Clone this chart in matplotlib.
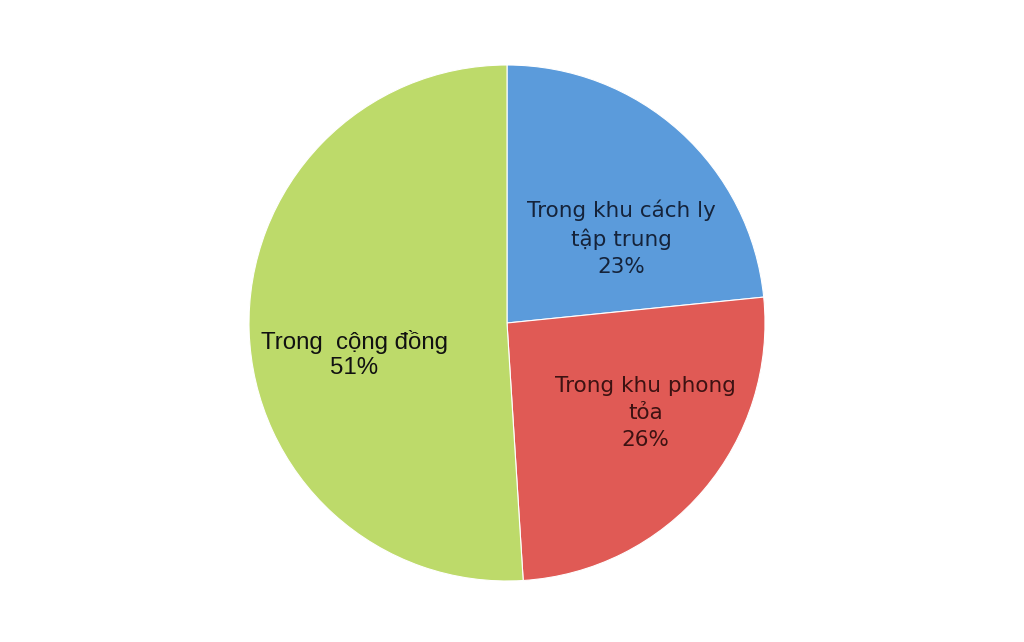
import matplotlib.pyplot as plt

labels = ["Trong khu cách ly\ntập trung", "Trong khu phong\ntỏa", "Trong  cộng đồng"]
values = [23.4, 25.6, 51.0]
pct_labels = ["23%", "26%", "51%"]
colors = ['#5B9BDB', '#E05A55', '#BDDA6A']
text_colors = ['#15233a', '#3d1212', '#111111']
families = ['DejaVu Sans', 'DejaVu Sans', 'Liberation Sans']
sizes = [15.5, 15.5, 17.3]

fig = plt.figure(figsize=(10.24, 6.42), dpi=100)
cx, cy, r = 507, 323, 258
ax = fig.add_axes([(cx - r) / 1024, (642 - cy - r) / 642, 2 * r / 1024, 2 * r / 642])
ax.pie(values, colors=colors, startangle=90, counterclock=False,
       wedgeprops=dict(edgecolor='white', linewidth=0.8))
ax.set_xlim(-1, 1)
ax.set_ylim(-1, 1)
ax.axis('off')

# label anchor points (data units, pie radius = 1)
label_pos = [(0.442, 0.329), (0.537, -0.349), (-0.591, -0.122)]
for i in range(len(values)):
    ax.text(label_pos[i][0], label_pos[i][1], f"{labels[i]}\n{pct_labels[i]}",
            ha='center', va='center', fontsize=sizes[i], color=text_colors[i],
            family=families[i], linespacing=1.45 if i < 2 else 1.15)

plt.savefig("out.png", dpi=100)
